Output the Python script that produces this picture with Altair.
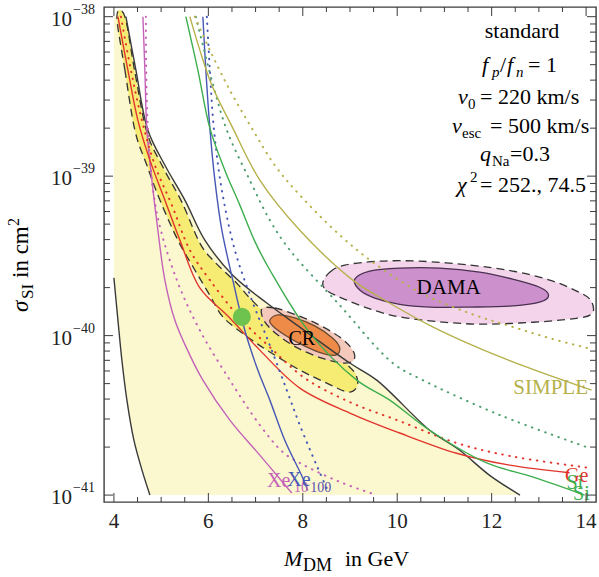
import altair as alt
import pandas as pd

# ---------------- axes ----------------
X_DOMAIN = [3.79, 14.21]
Y_DOMAIN = [9.05e-42, 1.15e-38]
X_MAJOR = [4, 6, 8, 10, 12, 14]
X_LABELS = ["4", "6", "8", "10", "12", "14"]
X_MINOR = [4.5, 5, 5.5, 6.5, 7, 7.5, 8.5, 9, 9.5, 10.5, 11, 11.5, 12.5, 13, 13.5]
Y_MAJOR = [1e-41, 1e-40, 1e-39, 1e-38]
Y_EXP = ["\u221241", "\u221240", "\u221239", "\u221238"]
Y_MINOR = [k * 10.0 ** e for e in (-41, -40, -39) for k in range(2, 10)]

# ---------------- curves (M_DM in GeV, sigma in cm^2) ----------------
BLACK_R_M = [4.254, 4.466, 4.720, 5.080, 5.503, 5.926, 6.518, 7.238, 7.937, 8.995, 9.566, 10.688, 11.323, 11.958, 12.600]
BLACK_R_S = [1.0e-38, 4.62e-39, 1.94e-39, 1.17e-39, 7.08e-40, 3.97e-40, 2.39e-40, 1.60e-40, 1.13e-40, 6.73e-41, 5.26e-41, 2.55e-41, 1.91e-41, 1.33e-41, 1.0e-41]
BLACK_L_M = [4.000, 4.085, 4.169, 4.275, 4.423, 4.593, 4.762]
BLACK_L_S = [2.30e-40, 1.25e-40, 7.01e-41, 3.94e-41, 2.21e-41, 1.44e-41, 1.0e-41]

BAND_M = [4.063, 4.233, 4.444, 4.698, 4.974, 5.354, 5.714, 6.032, 6.307, 6.772, 7.238, 7.937, 8.508, 8.952, 9.143,
          9.143, 8.995, 8.571, 7.937, 7.302, 6.878, 6.603, 6.138, 5.820, 5.439, 5.037, 4.698, 4.444, 4.233]
BAND_S = [1.0e-38, 4.62e-39, 1.94e-39, 1.17e-39, 7.08e-40, 3.97e-40, 2.58e-40, 1.79e-40, 1.31e-40, 1.01e-40, 8.11e-41, 6.08e-41, 5.04e-41, 4.43e-41, 4.75e-41,
          5.50e-41, 6.34e-41, 7.89e-41, 9.79e-41, 1.31e-40, 1.72e-40, 2.13e-40, 2.89e-40, 3.80e-40, 6.87e-40, 1.14e-39, 1.89e-39, 4.49e-39, 1.0e-38]

CRO_M = [7.132, 7.407, 7.831, 8.317, 8.783, 9.058, 9.079, 8.847, 8.402, 7.894, 7.471, 7.196]
CRO_S = [1.47e-40, 1.49e-40, 1.36e-40, 1.18e-40, 9.79e-41, 8.11e-41, 7.01e-41, 6.73e-41, 7.22e-41, 8.35e-41, 1.01e-40, 1.22e-40]
CRI_M = [7.302, 7.471, 7.831, 8.254, 8.635, 8.783, 8.698, 8.402, 8.000, 7.619, 7.365]
CRI_S = [1.25e-40, 1.35e-40, 1.29e-40, 1.15e-40, 9.64e-41, 8.35e-41, 7.55e-41, 7.76e-41, 8.71e-41, 1.01e-40, 1.15e-40]

DAMA_O_M = [8.423, 8.571, 8.889, 9.630, 10.476, 11.534, 12.444, 13.228, 13.757, 14.095, 14.095, 13.439, 12.593, 11.746, 10.899, 10.053, 9.418, 8.889, 8.529]
DAMA_O_S = [2.13e-40, 2.50e-40, 2.77e-40, 2.93e-40, 2.93e-40, 2.77e-40, 2.54e-40, 2.23e-40, 1.93e-40, 1.67e-40, 1.35e-40, 1.25e-40, 1.20e-40, 1.18e-40, 1.22e-40, 1.31e-40, 1.47e-40, 1.69e-40, 1.90e-40]
DAMA_I_M = [9.101, 9.418, 10.053, 10.899, 11.746, 12.444, 13.016, 13.206, 13.016, 12.381, 11.534, 10.688, 10.053, 9.524, 9.206]
DAMA_I_S = [2.26e-40, 2.54e-40, 2.65e-40, 2.65e-40, 2.50e-40, 2.26e-40, 2.01e-40, 1.79e-40, 1.62e-40, 1.53e-40, 1.51e-40, 1.51e-40, 1.57e-40, 1.72e-40, 1.93e-40]

SIMPLE_M = [5.608, 5.820, 6.074, 6.518, 7.090, 7.937, 9.058, 9.630, 10.688, 11.683, 12.804, 14.116]
SIMPLE_S = [1.0e-38, 6.17e-39, 3.72e-39, 2.0e-39, 9.44e-40, 4.58e-40, 2.23e-40, 1.74e-40, 1.16e-40, 8.47e-41, 6.25e-41, 4.55e-41]
SIMPLE_D_M = [5.714, 6.032, 6.455, 6.921, 7.407, 7.937, 8.783, 9.481, 10.476, 11.534, 12.381, 13.228, 14.116]
SIMPLE_D_S = [1.0e-38, 6.17e-39, 3.46e-39, 2.0e-39, 1.17e-39, 7.60e-40, 4.27e-40, 2.89e-40, 1.87e-40, 1.38e-40, 1.15e-40, 9.64e-41, 8.23e-41]

SI_M = [5.524, 5.778, 6.032, 6.349, 6.667, 6.984, 7.302, 8.148, 9.143, 9.841, 10.688, 11.894, 12.868, 13.970]
SI_S = [1.0e-38, 4.62e-39, 2.0e-39, 1.09e-39, 6.58e-40, 3.9e-40, 2.58e-40, 1.04e-40, 5.26e-41, 3.94e-41, 2.55e-41, 1.59e-41, 1.30e-41, 1.0e-41]
SI_D_M = [5.735, 6.074, 6.392, 6.878, 7.302, 7.725, 8.783, 9.905, 10.540, 12.169, 14.074]
SI_D_S = [1.0e-38, 4.0e-39, 1.94e-39, 9.44e-40, 5.30e-40, 3.44e-40, 1.55e-40, 6.73e-41, 5.26e-41, 3.18e-41, 1.97e-41]

XE100_M = [5.884, 5.947, 6.032, 6.138, 6.286, 6.518, 6.772, 7.048, 7.302, 7.619, 8.000, 8.106]
XE100_S = [1.0e-38, 4.62e-39, 2.0e-39, 9.44e-40, 4.58e-40, 2.23e-40, 1.08e-40, 6.08e-41, 3.94e-41, 2.21e-41, 1.28e-41, 1.07e-41]
XE100_D_M = [5.968, 6.032, 6.116, 6.286, 6.561, 6.921, 7.302, 7.661, 7.937, 8.317, 8.529]
XE100_D_S = [1.0e-38, 4.62e-39, 2.0e-39, 8.17e-40, 3.44e-40, 1.67e-40, 8.71e-41, 4.55e-41, 2.75e-41, 1.48e-41, 1.07e-41]

XE10_M = [4.614, 4.656, 4.698, 4.804, 4.931, 5.079, 5.291, 5.608, 5.884, 6.455, 7.090, 7.619, 7.767]
XE10_S = [1.0e-38, 4.62e-39, 1.94e-39, 9.44e-40, 4.58e-40, 2.23e-40, 1.25e-40, 7.55e-41, 5.26e-41, 2.95e-41, 1.78e-41, 1.16e-41, 1.03e-41]
XE10_D_M = [4.677, 4.720, 4.910, 5.333, 5.820, 6.455, 7.090, 7.577, 7.937, 8.783, 9.566]
XE10_D_S = [1.0e-38, 2.0e-39, 5.86e-40, 2.23e-40, 1.08e-40, 5.26e-41, 2.75e-41, 1.86e-41, 1.59e-41, 1.21e-41, 1.0e-41]

GE_M = [4.085, 4.296, 4.508, 4.762, 5.079, 5.397, 5.820, 6.455, 7.090, 7.937, 8.995, 10.053, 11.259, 12.381, 13.650]
GE_S = [1.0e-38, 4.62e-39, 2.24e-39, 1.26e-39, 7.08e-40, 3.97e-40, 1.99e-40, 1.29e-40, 8.11e-41, 4.69e-41, 3.27e-41, 2.45e-41, 1.83e-41, 1.54e-41, 1.38e-41]
GE_D_M = [4.148, 4.360, 4.593, 4.868, 5.228, 5.608, 6.032, 6.667, 7.302, 8.042, 8.995, 10.053, 11.259, 12.381, 14.074]
GE_D_S = [1.0e-38, 4.62e-39, 2.24e-39, 1.17e-39, 6.58e-40, 3.44e-40, 2.23e-40, 1.29e-40, 8.47e-41, 5.42e-41, 3.83e-41, 2.91e-41, 2.12e-41, 1.76e-41, 1.48e-41]

BEST_M = [6.709]
BEST_S = [1.31e-40]

# ---------------- styling ----------------
FONT = "Liberation Serif"
FRAME = "#3c3c3c"
W, H = 492, 495
OX, OY = 104, 7

xs = alt.Scale(domain=X_DOMAIN, nice=False, zero=False)
ys = alt.Scale(type="log", domain=Y_DOMAIN, nice=False)


def X():
    return alt.X("m:Q", scale=xs, axis=None)


def Y():
    return alt.Y("s:Q", scale=ys, axis=None)


def frame(ms, ss):
    return pd.DataFrame({"m": ms, "s": ss, "i": list(range(len(ms)))})


def curve(ms, ss, color, dotted=False, width=1.4):
    kw = dict(color=color, strokeWidth=width, interpolate="catmull-rom", clip=True)
    if dotted:
        kw.update(strokeDash=[0.5, 6.5], strokeCap="round", strokeWidth=2.0)
    return alt.Chart(frame(ms, ss)).mark_line(**kw).encode(x=X(), y=Y(), order="i:Q")


def region(ms, ss, fill, outline=None, dashed=False, interp="cardinal-closed"):
    kw = dict(fill=fill, interpolate=interp, clip=True)
    if outline:
        kw.update(stroke=outline, strokeWidth=1.3)
        if dashed:
            kw.update(strokeDash=[8, 5])
    else:
        kw.update(stroke=fill, strokeOpacity=0, strokeWidth=0)
    return alt.Chart(frame(ms, ss)).mark_line(**kw).encode(x=X(), y=Y(), order="i:Q")


ONE = pd.DataFrame({"a": [0]})


def txt(s, px, py, size=22, style="normal", color="black", align="left", angle=None):
    kw = dict(text=s, fontSize=size, font=FONT, fontStyle=style, color=color, align=align, baseline="alphabetic")
    if angle is not None:
        kw["angle"] = angle
    return alt.Chart(ONE).mark_text(**kw).encode(x=alt.value(px - OX), y=alt.value(py - OY))


def label(s, m, sg, size=21, color="black", style="normal"):
    return alt.Chart(pd.DataFrame({"m": [m], "s": [sg]})).mark_text(
        text=s, fontSize=size, font=FONT, color=color, fontStyle=style, align="center", baseline="middle"
    ).encode(x=X(), y=Y())


layers = []

# filled regions
ly_m = [4.0] + BLACK_R_M + BLACK_L_M[::-1]
ly_s = [1.0e-38] + BLACK_R_S + BLACK_L_S[::-1]
layers.append(region(ly_m, ly_s, "#FBF8D0", interp="linear-closed"))
layers.append(region(BAND_M, BAND_S, "#F6EC74", outline="#333333", dashed=True))
layers.append(region(CRO_M, CRO_S, "#F4C8BA", outline="#333333", dashed=True))
layers.append(region(CRI_M, CRI_S, "#EE8B48", outline="#6a4a30"))
layers.append(region(DAMA_O_M, DAMA_O_S, "#F3D4EB", outline="#333333", dashed=True))
layers.append(region(DAMA_I_M, DAMA_I_S, "#CC90CC", outline="#4a3050"))

# curves
layers += [
    curve(BLACK_R_M, BLACK_R_S, "#3a3a3a"),
    curve(BLACK_L_M, BLACK_L_S, "#3a3a3a"),
    curve(XE10_M, XE10_S, "#C462B8"),
    curve(XE10_D_M, XE10_D_S, "#C462B8", dotted=True),
    curve(GE_M, GE_S, "#E1352C"),
    curve(GE_D_M, GE_D_S, "#E1352C", dotted=True),
    curve(XE100_M, XE100_S, "#4757B5"),
    curve(XE100_D_M, XE100_D_S, "#4757B5", dotted=True),
    curve(SI_M, SI_S, "#3DAE4E"),
    curve(SI_D_M, SI_D_S, "#4E9E70", dotted=True),
    curve(SIMPLE_M, SIMPLE_S, "#B6B14B"),
    curve(SIMPLE_D_M, SIMPLE_D_S, "#B6B14B", dotted=True),
]

# best-fit point
layers.append(
    alt.Chart(pd.DataFrame({"m": BEST_M, "s": BEST_S})).mark_circle(size=330, color="#6EC24E", opacity=1).encode(x=X(), y=Y())
)

# region / curve labels
layers += [
    label("CR", 7.98, 9.5e-41, size=20),
    label("DAMA", 11.09, 1.99e-40, size=21),
    label("SIMPLE", 13.25, 4.69e-41, size=21, color="#B6B14B"),
    label("Xe", 7.49, 1.22e-41, size=20, color="#C462B8"),
    label("10", 7.96, 1.10e-41, size=14, color="#C462B8"),
    label("Xe", 7.92, 1.24e-41, size=20, color="#4757B5"),
    label("100", 8.38, 1.10e-41, size=14, color="#5a50b0"),
    label("Ge", 13.80, 1.32e-41, size=20, color="#E1352C"),
    label("Si", 13.76, 1.19e-41, size=20, color="#3DAE4E"),
    label("Si", 13.90, 1.01e-41, size=20, color="#3DAE4E"),
]

# ticks (inside the frame, all four sides)
def xticks(vals, length, top):
    enc = dict(y=alt.value(0), y2=alt.value(length)) if top else dict(y=alt.value(H), y2=alt.value(H - length))
    return alt.Chart(pd.DataFrame({"m": vals})).mark_rule(color=FRAME, strokeWidth=1).encode(x=X(), **enc)


def yticks(vals, length, right):
    enc = dict(x=alt.value(W), x2=alt.value(W - length)) if right else dict(x=alt.value(0), x2=alt.value(length))
    return alt.Chart(pd.DataFrame({"s": vals})).mark_rule(color=FRAME, strokeWidth=1).encode(y=Y(), **enc)


layers += [
    xticks(X_MAJOR, 9, False), xticks(X_MINOR, 5, False),
    xticks(X_MAJOR, 9, True), xticks(X_MINOR, 5, True),
    yticks(Y_MAJOR, 9, False), yticks(Y_MINOR, 6, False),
    yticks(Y_MAJOR, 9, True), yticks(Y_MINOR, 6, True),
]

# tick labels
layers.append(
    alt.Chart(pd.DataFrame({"m": X_MAJOR, "t": X_LABELS})).mark_text(
        fontSize=21, font=FONT, align="center", baseline="alphabetic", color="#222"
    ).encode(x=X(), y=alt.value(H + 26), text="t:N")
)
ylab = pd.DataFrame({"s": Y_MAJOR, "e": Y_EXP})
layers.append(
    alt.Chart(ylab).mark_text(text="10", fontSize=21, font=FONT, align="right", baseline="alphabetic", dy=9, color="#222")
    .encode(x=alt.value(-32), y=Y())
)
layers.append(
    alt.Chart(ylab).mark_text(fontSize=14, font=FONT, align="left", baseline="alphabetic", dy=-3, color="#222")
    .encode(x=alt.value(-31), y=Y(), text="e:N")
)

# axis titles
layers += [
    txt("M", 284, 566, 22, "italic"),
    txt("DM", 303, 571, 18),
    txt("in GeV", 345, 566, 22),
    txt("\u03c3", 28, 312, 23, "italic", angle=270),
    txt("SI", 33, 299, 17, angle=270),
    txt("in cm", 28, 278, 23, angle=270),
    txt("2", 19, 226, 16, angle=270),
]

# parameter box
layers += [
    txt("standard", 522, 38, 22, align="center"),
    txt("f", 482, 72, 22, "italic"), txt("p", 492, 77, 15, "italic"), txt("/", 500, 72, 22),
    txt("f", 507, 72, 22, "italic"), txt("n", 516, 77, 15, "italic"), txt("= 1", 528, 72, 22),
    txt("v", 458, 104, 22, "italic"), txt("0", 468, 109, 15), txt("= 220 km/s", 480, 104, 22),
    txt("v", 452, 133, 22, "italic"), txt("esc", 462, 138, 15), txt("= 500 km/s", 490, 133, 22),
    txt("q", 480, 161, 22, "italic"), txt("Na", 492, 166, 15), txt("=0.3", 510, 161, 22),
    txt("\u03c7", 457, 192, 22, "italic"), txt("2", 470, 182, 15), txt("= 252., 74.5", 480, 192, 22),
]

chart = alt.layer(*layers).properties(
    width=W,
    height=H,
    padding={"left": OX, "top": OY, "right": 599 - OX - W, "bottom": 577 - OY - H},
    autosize=alt.AutoSizeParams(type="none"),
).configure_view(stroke=FRAME, strokeWidth=1.4)

chart.save("out.html", embed_options={"renderer": "svg", "actions": False})
